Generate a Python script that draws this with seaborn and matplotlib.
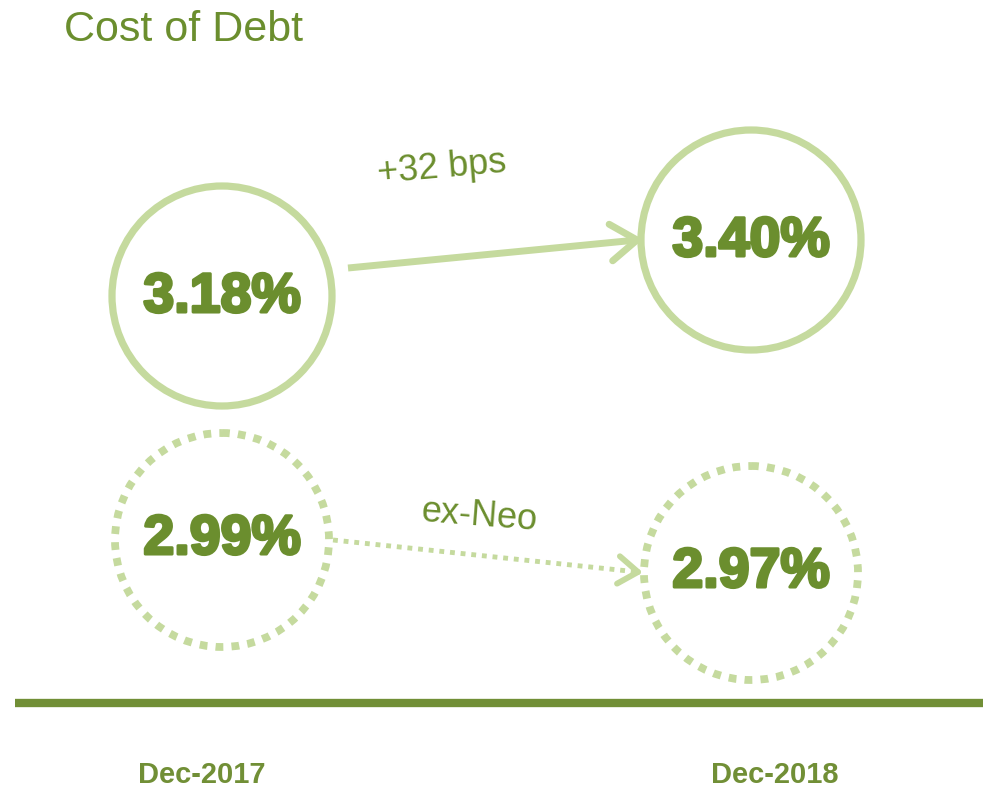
import numpy as np
import matplotlib
matplotlib.use("Agg")
import matplotlib.pyplot as plt
import matplotlib.patheffects as pe
from matplotlib.patches import Circle
from matplotlib import font_manager
import seaborn as sns

# data
periods = ["Dec-2017", "Dec-2018"]
reported = [3.18, 3.40]
ex_neo = [2.99, 2.97]
reported_change = "+32 bps"
ex_neo_label = "ex-Neo"
title = "Cost of Debt"

# layout (pixel space, y down)
W, H = 992, 789
period_x = [222, 751]
label_x = [202, 775]
reported_y = [296, 240]
ex_neo_y = [540, 573]
radius = 109
dark = "#6b8e2e"
light = "#c5da9e"
line_col = "#718f36"

sns.set_theme(style="white")
plt.rcParams['font.family'] = ['Liberation Sans', 'DejaVu Sans']

names = {f.name for f in font_manager.fontManager.ttflist}
narrow = "Liberation Sans Narrow" in names

fig = plt.figure(figsize=(W / 100, H / 100), dpi=100)
ax = fig.add_axes([0, 0, 1, 1])
ax.set_xlim(0, W)
ax.set_ylim(H, 0)
ax.axis("off")

heavy = [pe.withStroke(linewidth=2.2, foreground=dark)]


def chevron(ax, start, tip, length, lw, color):
    d = np.array(tip, float) - np.array(start, float)
    d /= np.linalg.norm(d)
    for ang in (35, -35):
        a = np.deg2rad(ang)
        r = np.array([d[0] * np.cos(a) - d[1] * np.sin(a), d[0] * np.sin(a) + d[1] * np.cos(a)])
        end = np.array(tip) - length * r
        ax.plot([tip[0], end[0]], [tip[1], end[1]], color=color, lw=lw, solid_capstyle="round")


# reported circles + arrow
for x, y, v in zip(period_x, reported_y, reported):
    ax.add_patch(Circle((x, y), radius + 1, fill=False, ec=light, lw=5.2))
    ax.text(x, y + 2, f"{v:.2f}%", ha="center", va="center", fontsize=40,
            fontweight="bold", color=dark, path_effects=heavy)

s1 = (period_x[0] + radius + 17, reported_y[0] - 28)
t1 = (period_x[1] - radius - 5, reported_y[1])
ax.plot([s1[0], t1[0]], [s1[1], t1[1]], color=light, lw=5, solid_capstyle="butt")
chevron(ax, s1, t1, 32, 5, light)
ax.text(442, 168, reported_change, ha="center", va="center", fontsize=26,
        color=dark, rotation=5, rotation_mode="anchor")

# ex-Neo dotted circles + arrow
for x, y, v in zip(period_x, ex_neo_y, ex_neo):
    ax.add_patch(Circle((x, y), radius - 2, fill=False, ec=light, lw=5.6,
                        linestyle=(0, (1.0, 1.05)), capstyle="butt"))
    ax.text(x, y, f"{v:.2f}%", ha="center", va="center", fontsize=40,
            fontweight="bold", color=dark, path_effects=heavy)

s2 = (period_x[0] + radius + 2, ex_neo_y[0])
t2 = (period_x[1] - radius - 4, ex_neo_y[1] - 1)
ax.plot([s2[0], t2[0]], [s2[1], t2[1]], color=light, lw=3.5,
        linestyle=(0, (1.0, 1.2)), dash_capstyle="butt")
chevron(ax, s2, t2, 24, 4.2, light)
ax.text(479, 516, ex_neo_label, ha="center", va="center", fontsize=26,
        color=dark, rotation=-4.5, rotation_mode="anchor")

# baseline and period labels
ax.plot([15, 983], [703, 703], color=line_col, lw=6, solid_capstyle="butt")
lab_font = ['Liberation Sans Narrow', 'Liberation Sans'] if narrow else ['Liberation Sans']
lab_size = 25 if narrow else 21
for x, p in zip(label_x, periods):
    ax.text(x, 775, p, ha="center", va="center", fontsize=lab_size,
            fontweight="bold", color=line_col, family=lab_font)

ax.text(64, 30, title, ha="left", va="center", fontsize=31, color=dark)

fig.savefig("out.png", dpi=100)
